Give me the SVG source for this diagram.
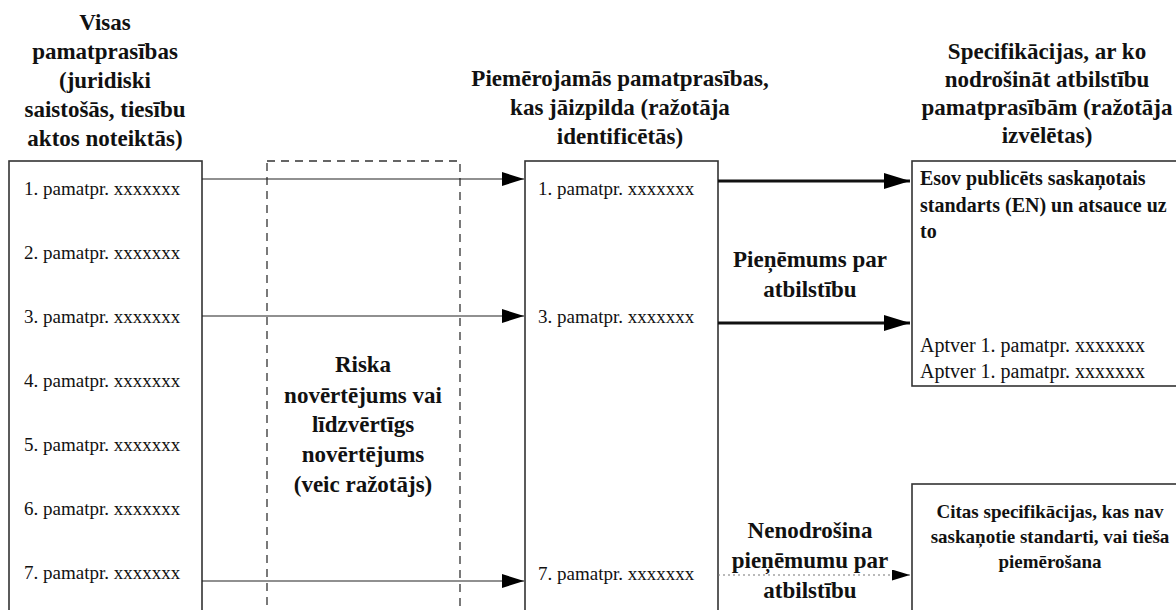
<svg xmlns="http://www.w3.org/2000/svg" width="1176" height="610" viewBox="0 0 1176 610">
<style>
text{font-family:"Liberation Serif","Times New Roman",serif;fill:#111}
.h{font-size:23px;font-weight:bold;text-anchor:middle}
.it{font-size:19px}
.box{fill:#fff;stroke:#333;stroke-width:1.6}
.risk{fill:none;stroke:#333;stroke-width:1.3;stroke-dasharray:8 6}
.thin{stroke:#222;stroke-width:1.2;fill:none}
.thick{stroke:#111;stroke-width:3;fill:none}
.dot{stroke:#777;stroke-width:1.2;stroke-dasharray:2 3;fill:none}
.b19{font-size:19px;font-weight:bold;text-anchor:middle}
.b20{font-size:20px;font-weight:bold}
.r20{font-size:20px}
</style>
<defs>
<marker id="ah" markerUnits="userSpaceOnUse" markerWidth="22" markerHeight="14" refX="22" refY="7" orient="auto"><path d="M0,0 L22,7 L0,14 z" fill="#000"/></marker>
<marker id="ahb" markerUnits="userSpaceOnUse" markerWidth="26" markerHeight="16" refX="26" refY="8" orient="auto"><path d="M0,0 L26,8 L0,16 z" fill="#000"/></marker>
<marker id="ahs" markerUnits="userSpaceOnUse" markerWidth="18" markerHeight="11" refX="18" refY="5.5" orient="auto"><path d="M0,0 L18,5.5 L0,11 z" fill="#000"/></marker>
</defs>
<rect width="1176" height="610" fill="#fff"/>

<g id="hdr-left">
<text class="h" x="105" y="30">Visas</text>
<text class="h" x="105" y="59">pamatprasības</text>
<text class="h" x="105" y="88">(juridiski</text>
<text class="h" x="105" y="117">saistošās, tiesību</text>
<text class="h" x="105" y="146">aktos noteiktās)</text>
</g>
<g id="hdr-mid">
<text class="h" x="620" y="86">Piemērojamās pamatprasības,</text>
<text class="h" x="620" y="115">kas jāizpilda (ražotāja</text>
<text class="h" x="620" y="144">identificētās)</text>
</g>
<g id="hdr-right">
<text class="h" x="1047" y="59">Specifikācijas, ar ko</text>
<text class="h" x="1047" y="87">nodrošināt atbilstību</text>
<text class="h" x="1047" y="115">pamatprasībām (ražotāja</text>
<text class="h" x="1047" y="143">izvēlētas)</text>
</g>

<g id="left-box">
<rect class="box" x="9" y="161" width="193" height="470"/>
<text class="it" x="24" y="195">1. pamatpr. xxxxxxx</text>
<text class="it" x="24" y="259">2. pamatpr. xxxxxxx</text>
<text class="it" x="24" y="323">3. pamatpr. xxxxxxx</text>
<text class="it" x="24" y="387">4. pamatpr. xxxxxxx</text>
<text class="it" x="24" y="451">5. pamatpr. xxxxxxx</text>
<text class="it" x="24" y="515">6. pamatpr. xxxxxxx</text>
<text class="it" x="24" y="579">7. pamatpr. xxxxxxx</text>
</g>

<g id="risk-box">
<rect class="risk" x="267" y="161" width="193" height="470"/>
<text class="h" x="363" y="372">Riska</text>
<text class="h" x="363" y="403">novērtējums vai</text>
<text class="h" x="363" y="432">līdzvērtīgs</text>
<text class="h" x="363" y="462">novērtējums</text>
<text class="h" x="363" y="492">(veic ražotājs)</text>
</g>

<g id="mid-box">
<rect class="box" x="525" y="161" width="193" height="470"/>
<text class="it" x="538" y="195">1. pamatpr. xxxxxxx</text>
<text class="it" x="538" y="323">3. pamatpr. xxxxxxx</text>
<text class="it" x="538" y="580">7. pamatpr. xxxxxxx</text>
</g>

<g id="spec-box-1">
<rect class="box" x="912" y="161" width="280" height="225"/>
<text class="b20" x="920" y="185">Esov publicēts saskaņotais</text>
<text class="b20" x="920" y="212">standarts (EN) un atsauce uz</text>
<text class="b20" x="920" y="238">to</text>
<text class="r20" x="920" y="352">Aptver 1. pamatpr. xxxxxxx</text>
<text class="r20" x="920" y="378">Aptver 1. pamatpr. xxxxxxx</text>
</g>

<g id="spec-box-2">
<rect class="box" x="912" y="484" width="280" height="150"/>
<text class="b19" x="1050" y="518">Citas specifikācijas, kas nav</text>
<text class="b19" x="1050" y="543">saskaņotie standarti, vai tieša</text>
<text class="b19" x="1050" y="568">piemērošana</text>
</g>

<g id="labels">
<text class="h" x="810" y="267">Pieņēmums par</text>
<text class="h" x="810" y="297">atbilstību</text>
<text class="h" x="810" y="538">Nenodrošina</text>
<text class="h" x="810" y="568">pieņēmumu par</text>
<text class="h" x="810" y="598">atbilstību</text>
</g>

<g id="connectors">
<line class="thin" x1="202" y1="179" x2="524" y2="179" marker-end="url(#ah)"/>
<line class="thin" x1="202" y1="316" x2="524" y2="316" marker-end="url(#ah)"/>
<line class="thin" x1="202" y1="581" x2="524" y2="581" marker-end="url(#ah)"/>
<line class="thick" x1="718" y1="181" x2="910" y2="181" marker-end="url(#ahb)"/>
<line class="thick" x1="718" y1="323" x2="910" y2="323" marker-end="url(#ahb)"/>
<line class="dot" x1="718" y1="575" x2="910" y2="575" marker-end="url(#ahs)"/>
</g>
</svg>
